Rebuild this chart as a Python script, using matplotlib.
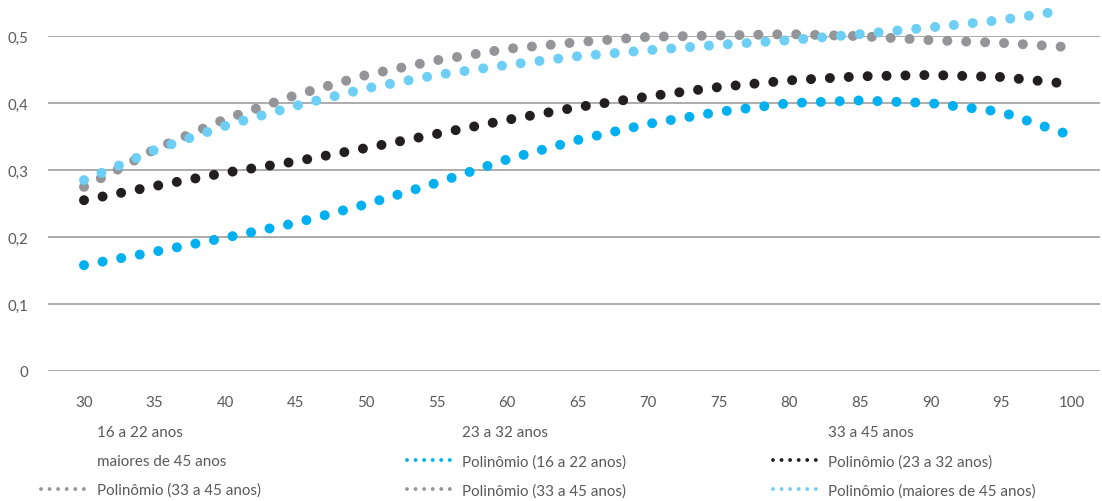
import matplotlib
matplotlib.use('Agg')
import matplotlib.pyplot as plt
from matplotlib.lines import Line2D

plt.rcParams['font.family'] = ['Lato', 'DejaVu Sans']

# trendline values (x = age, y = share)
x_1622 = [30, 35, 40, 45, 50, 55, 60, 65, 70, 75, 80, 85, 90, 95, 99.5]
y_1622 = [0.158, 0.178, 0.199, 0.221, 0.249, 0.281, 0.316, 0.345, 0.369, 0.387, 0.400, 0.404, 0.400, 0.387, 0.355]

x_2332 = [30, 35, 40, 45, 50, 55, 60, 65, 70, 75, 80, 85, 90, 95, 99.2]
y_2332 = [0.255, 0.276, 0.296, 0.313, 0.333, 0.354, 0.375, 0.394, 0.410, 0.424, 0.434, 0.440, 0.442, 0.439, 0.430]

x_3345 = [30, 32.5, 35, 40, 45, 50, 55, 60, 65, 70, 75, 80, 85, 90, 95, 99.5]
y_3345 = [0.275, 0.302, 0.331, 0.376, 0.412, 0.442, 0.464, 0.481, 0.491, 0.499, 0.501, 0.503, 0.500, 0.494, 0.490, 0.484]

x_45p = [30, 32.5, 35, 40, 45, 50, 55, 60, 65, 70, 75, 80, 85, 90, 95, 98.7]
y_45p = [0.285, 0.307, 0.330, 0.366, 0.396, 0.422, 0.442, 0.457, 0.470, 0.479, 0.487, 0.494, 0.503, 0.513, 0.524, 0.536]

series_names = ['16 a 22 anos', '23 a 32 anos', '33 a 45 anos', 'maiores de 45 anos']
trend_labels = ['Polinômio (16 a 22 anos)', 'Polinômio (23 a 32 anos)',
                'Polinômio (33 a 45 anos)', 'Polinômio (33 a 45 anos)',
                'Polinômio (maiores de 45 anos)']
colors = ['#00B0F0', '#231F20', '#939598', '#6DCFF6']
trend_colors = ['#00B0F0', '#231F20', '#939598', '#939598', '#6DCFF6']

xticks = [30, 35, 40, 45, 50, 55, 60, 65, 70, 75, 80, 85, 90, 95, 100]
yticks = [0, 0.1, 0.2, 0.3, 0.4, 0.5]

txt = '#595959'
fig = plt.figure(figsize=(11.02, 5.02), dpi=100)
ax = fig.add_axes([0.0436, 0.259, 0.9544, 0.667])

dots = (0, (0.001, 1.89))
for xs, ys, c in zip([x_1622, x_2332, x_3345, x_45p], [y_1622, y_2332, y_3345, y_45p], colors):
    ax.plot(xs, ys, color=c, lw=7.2, linestyle=dots, dash_capstyle='round',
            solid_capstyle='round', clip_on=False, zorder=3)

ax.set_xlim(27.45, 102)
ax.set_ylim(0, 0.5)
ax.set_xticks(xticks)
ax.set_yticks(yticks)
ax.set_yticklabels([f'{v:g}'.replace('.', ',') for v in yticks])
ax.tick_params(length=0, labelsize=10.8, colors=txt)
ax.tick_params(axis='y', pad=14)
ax.tick_params(axis='x', pad=17)
ax.grid(axis='y', color='#A6A6A6', lw=1.3)
ax.set_axisbelow(True)
for s in ax.spines.values():
    s.set_visible(False)

# legend: three columns, filled row by row
blank = [Line2D([], [], linestyle='none') for _ in series_names]
trend = [Line2D([], [], color=c, lw=2.8, linestyle=(0, (0.001, 2.2)), dash_capstyle='round')
         for c in trend_colors]
handles = blank + trend
labels = series_names + trend_labels
cols_x = [0.0375, 0.369, 0.7015]
for i, cx in enumerate(cols_x):
    leg = fig.legend(handles[i::3], labels[i::3], loc='upper left', bbox_to_anchor=(cx, 0.151),
                     frameon=False, fontsize=10.9, handlelength=3.1, handletextpad=0.55,
                     labelspacing=0.98, borderaxespad=0, borderpad=0)
    for t in leg.get_texts():
        t.set_color(txt)

fig.savefig('out.png', dpi=100)
